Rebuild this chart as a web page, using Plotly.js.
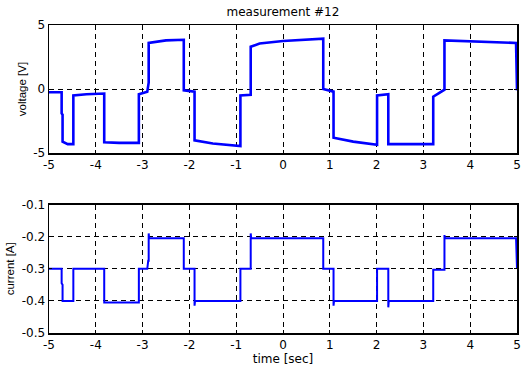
<!DOCTYPE html>
<html>
<head>
<meta charset="utf-8">
<script src="https://cdn.plot.ly/plotly-3.0.1.min.js"></script>
<style>html,body{margin:0;padding:0;background:#fff;}#chart{width:523px;height:369px;}</style>
</head>
<body>
<div id="chart"></div>
<script>
// Voltage trace: time breakpoints [sec] and voltage [V]
var timeV = [-5, -4.73, -4.73, -4.71, -4.71, -4.60, -4.48, -4.48, -4.20, -3.82, -3.82, -3.50, -3.08,
  -3.08, -2.90, -2.88, -2.87, -2.87, -2.50, -2.12, -2.12, -1.89, -1.89, -1.50, -0.91,
  -0.91, -0.69, -0.69, -0.50, 0.00, 0.40, 0.86, 0.86, 1.08, 1.08, 1.50, 2.01,
  2.01, 2.25, 2.25, 2.70, 3.21, 3.21, 3.35, 3.45, 3.45, 4.20, 4.98, 5.00];
var voltage = [-0.25, -0.25, -1.9, -2.0, -4.1, -4.3, -4.3, -0.5, -0.4, -0.35, -4.15, -4.2, -4.2,
  -0.4, -0.2, 0.5, 0.5, 3.6, 3.8, 3.85, -0.1, -0.2, -4.0, -4.25, -4.45,
  -0.5, -0.45, 3.3, 3.55, 3.75, 3.85, 3.93, 0.0, -0.2, -3.8, -4.1, -4.35,
  -0.5, -0.4, -4.3, -4.3, -4.3, -0.6, -0.3, -0.05, 3.8, 3.7, 3.6, -0.1];

// Current trace: time breakpoints [sec] and current [A]
var timeI = [-5, -4.73, -4.73, -4.71, -4.71, -4.48, -4.48, -3.82, -3.82, -3.08,
  -3.08, -2.90, -2.88, -2.87, -2.87, -2.86, -2.12, -2.12, -1.89, -1.89, -1.88, -0.91,
  -0.91, -0.69, -0.69, -0.68, 0.86, 0.86, 1.08, 1.08, 1.09, 2.01,
  2.01, 2.25, 2.25, 2.26, 3.21, 3.21, 3.45, 3.45, 3.46, 4.98, 5.00];
var current = [-0.30, -0.30, -0.345, -0.35, -0.40, -0.40, -0.30, -0.30, -0.405, -0.405,
  -0.30, -0.30, -0.275, -0.275, -0.19, -0.205, -0.205, -0.30, -0.30, -0.415, -0.40, -0.40,
  -0.30, -0.30, -0.19, -0.205, -0.205, -0.30, -0.30, -0.415, -0.40, -0.40,
  -0.30, -0.30, -0.42, -0.40, -0.40, -0.303, -0.303, -0.195, -0.205, -0.205, -0.30];

var xTicks = [-5, -4, -3, -2, -1, 0, 1, 2, 3, 4, 5];
var vTicks = [-5, 0, 5];
var iTicks = [-0.5, -0.4, -0.3, -0.2, -0.1];
var iTickText = ['-0.5', '-0.4', '-0.3', '-0.2', '-0.1'];

var font = {family: 'DejaVu Sans, sans-serif', size: 12, color: '#000'};
var yTitleFont = {family: 'Liberation Sans, Arial, sans-serif', size: 11.5, color: '#000'};

var traces = [
  {x: timeV, y: voltage, type: 'scatter', mode: 'lines', xaxis: 'x', yaxis: 'y',
   line: {color: '#0000ff', width: 2.6}, hoverinfo: 'skip'},
  {x: timeI, y: current, type: 'scatter', mode: 'lines', xaxis: 'x2', yaxis: 'y2',
   line: {color: '#0000ff', width: 2}, hoverinfo: 'skip'}
];

function xAxis(anchor, title) {
  var a = {
    anchor: anchor, range: [-5, 5], tickvals: xTicks, ticktext: xTicks.map(String),
    showgrid: true, gridcolor: '#000', gridwidth: 1, griddash: '5px,4px',
    zeroline: false, showline: true, linecolor: '#000', linewidth: 1.5, mirror: 'ticks',
    ticks: 'inside', ticklen: 3, tickcolor: '#000', tickfont: font
  };
  if (title) a.title = {text: title, font: font, standoff: 2};
  return a;
}
function yAxis(anchor, domain, range, vals, text, title) {
  return {
    anchor: anchor, domain: domain, range: range, tickvals: vals, ticktext: text,
    showgrid: true, gridcolor: '#000', gridwidth: 1, griddash: '5px,4px',
    zeroline: false, showline: true, linecolor: '#000', linewidth: 1.5, mirror: 'ticks',
    ticks: 'inside', ticklen: 3, tickcolor: '#000', tickfont: font,
    title: {text: title, font: yTitleFont, standoff: 4}
  };
}

var layout = {
  width: 523, height: 369,
  margin: {l: 49, r: 6, t: 25, b: 36},
  paper_bgcolor: '#fff', plot_bgcolor: '#fff',
  showlegend: false,
  font: font,
  title: {text: 'measurement #12', font: font, x: 0.541, xanchor: 'center',
          y: 0.967, yanchor: 'middle', yref: 'container'},
  xaxis: xAxis('y', null),
  yaxis: yAxis('x', [0.584, 1], [-5, 5], vTicks, vTicks.map(String), 'voltage [V]'),
  xaxis2: xAxis('y2', 'time [sec]'),
  yaxis2: yAxis('x2', [0, 0.417], [-0.5, -0.1], iTicks, iTickText, 'current [A]')
};

Plotly.newPlot('chart', traces, layout, {staticPlot: true, displayModeBar: false});
</script>
</body>
</html>
